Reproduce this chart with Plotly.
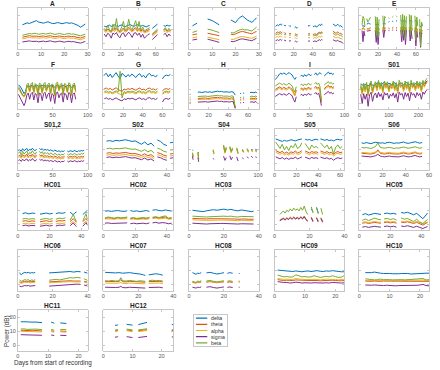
import plotly.graph_objects as go

W, H = 440, 370
BANDS = ["delta", "theta", "alpha", "sigma", "beta"]
BAND_COLORS = ["#0072BD", "#D95319", "#EDB120", "#7E2F8E", "#77AC30"]
N = None

# ---------------- data (dB) ----------------
A_days = list(range(2, 30))
A_delta = [13.0,13.6,14.4,14.0,14.8,15.4,16.0,15.0,14.6,14.2,14.7,15.2,14.5,13.9,14.1,14.6,14.3,13.8,14.2,14.6,14.1,14.4,13.9,13.3,12.5,11.3,12.4,13.6]
A_theta = [4.2,4.6,5.0,5.3,4.9,5.2,5.0,4.6,4.9,5.1,4.7,4.9,5.3,4.8,4.5,4.8,5.1,4.7,4.4,4.8,5.0,4.6,4.8,4.3,4.0,3.6,4.2,4.8]
A_alpha = [3.0,3.3,3.8,4.1,3.7,4.0,3.8,3.4,3.7,3.9,3.5,3.7,4.1,3.6,3.3,3.6,3.9,3.5,3.2,3.6,3.8,3.4,3.6,3.1,2.8,2.4,3.0,3.6]
A_sigma = [0.8,1.1,1.4,1.6,1.2,1.5,1.3,0.9,1.2,1.4,1.0,1.2,1.6,1.1,0.8,1.1,1.4,1.0,0.7,1.1,1.3,0.9,1.1,0.6,0.3,0.0,0.6,1.2]
A_beta = [5.6,6.0,6.4,6.8,6.5,7.0,6.8,6.3,6.6,6.9,6.4,6.7,7.1,6.6,6.2,6.5,6.9,6.4,6.1,6.6,6.8,6.3,6.5,6.0,5.6,5.2,5.8,6.4]

B_days = list(range(1, 54, 2)) + [N, 56, 58, 60, 62, N, 69, 71, 73, 75, 77]
B_delta = [12.0,11.6,12.4,12.8,11.9,12.5,13.0,12.2,11.8,12.6,12.9,12.1,11.7,12.4,12.8,13.2,12.3,11.9,12.7,13.1,12.5,12.0,12.6,11.8,11.5,12.2,12.6, N, 10.5,11.5,12.5,13.5, N, 12.5,12.0,12.8,12.2,12.6]
B_theta = [9.5,8.5,10.0,9.0,8.2,10.5,9.2,11.0,8.8,8.0,9.6,10.8,8.6,9.3,11.2,9.5,8.7,10.2,11.0,9.0,10.5,8.5,9.6,8.0,8.8,9.2,9.8, N, 6.0,7.0,8.0,9.0, N, 9.0,9.8,8.5,9.5,8.8]
B_alpha = [8.5,7.6,9.0,8.2,7.4,9.4,8.3,9.8,7.9,7.2,8.6,9.7,7.8,8.4,10.0,8.6,7.8,9.2,9.8,8.1,9.4,7.6,8.7,7.2,7.9,8.3,8.8, N, 5.0,6.0,7.0,8.0, N, 8.0,8.7,7.5,8.4,7.8]
B_sigma = [6.5,4.5,7.0,6.0,3.5,7.2,6.2,7.5,5.0,3.8,6.6,7.3,4.6,6.0,7.8,6.2,4.0,7.0,7.4,5.5,7.1,4.2,6.4,3.5,5.2,6.0,6.6, N, 2.5,3.5,5.0,6.0, N, 6.0,7.0,4.5,6.5,5.0]
B_beta = [10.5,9.0,12.8,9.5,8.0,13.5,10.0,17.5,9.2,8.5,11.5,15.5,9.0,10.5,17.0,11.0,9.5,13.0,16.0,10.2,15.5,9.0,11.5,8.8,9.5,10.2,11.0, N, 6.5,7.5,9.0,10.0, N, 9.5,11.0,8.5,10.5,9.0]

C_days = [1.5, 2.5, 3.5, N, 8, 9, 10, 11, 12, 13, N] + list(range(18, 30))
C_delta = [12.3,13.2,14.2, N, 17.2,16.8,16.0,15.0,14.2,13.0, N, 16.5,15.5,14.6,16.8,18.5,19.3,17.8,16.5,15.6,14.8,16.2,18.0]
C_theta = [5.9,6.2,6.5, N, 7.0,6.8,6.4,6.0,5.6,5.2, N, 6.4,6.0,6.6,7.4,8.0,8.3,7.6,7.4,7.0,6.6,7.6,8.3]
C_alpha = [3.8,4.1,4.4, N, 4.2,4.0,3.6,3.2,2.8,2.4, N, 2.8,2.6,3.2,3.9,4.5,4.7,4.2,4.0,3.7,3.4,4.3,5.0]
C_sigma = [2.2,2.5,2.8, N, 2.8,2.5,2.0,1.5,1.0,0.5, N, 1.2,1.0,1.5,2.2,2.8,3.0,2.5,2.3,2.0,1.7,2.8,3.5]
C_beta = [7.6,8.2,8.7, N, 9.9,9.7,9.2,8.6,8.0,7.5, N, 7.5,7.2,8.0,9.0,9.6,9.9,9.3,9.5,9.0,8.6,10.0,11.3]

D_days = [1,2,3,4,5,6,7,8,N,10,11,12,N,15,16,17,N,21,22,23,24,N,35,36,37,N,40,41,42,43,44,45,46,47,48,49,50,N,61,62,63,64,65,66,67,68,69,70,71]
D_delta = [12.0,12.8,13.0,12.4,13.2,13.6,12.8,13.4,N,13.0,12.2,12.8,N,12.6,11.8,12.4,N,11.0,11.6,10.6,11.2,N,12.6,12.0,12.8,N,12.2,11.6,12.4,12.0,11.4,12.2,12.8,13.2,12.4,13.6,13.0,N,13.6,13.2,12.8,12.2,12.8,13.4,12.6,12.0,12.4,11.6,11.2]
D_theta = [6.8,7.6,8.0,7.2,7.8,8.2,7.4,7.9,N,7.6,6.8,7.2,N,7.0,6.5,7.0,N,6.0,6.6,5.8,6.2,N,6.8,6.4,7.0,N,6.6,6.0,6.8,6.4,6.0,7.0,7.4,7.8,7.0,8.0,7.6,N,8.4,8.0,7.6,7.0,7.4,8.0,7.2,6.6,7.0,6.2,6.0]
D_alpha = [4.0,4.6,4.8,4.2,4.8,5.0,4.4,4.8,N,4.6,4.0,4.4,N,4.2,3.8,4.2,N,3.4,3.8,3.2,3.6,N,4.0,3.6,4.2,N,3.8,3.4,4.0,3.6,3.4,4.2,4.6,4.8,4.2,5.0,4.6,N,4.8,4.4,4.2,3.8,4.0,4.4,3.8,3.4,3.6,3.0,2.8]
D_sigma = [1.6,2.2,2.4,1.8,2.4,2.6,2.0,2.4,N,2.2,1.6,2.0,N,1.8,1.4,1.8,N,1.0,1.4,0.8,1.2,N,1.6,1.2,1.8,N,1.4,1.0,1.6,1.2,1.0,1.8,2.2,2.4,1.8,2.6,2.2,N,2.4,2.0,1.8,1.4,1.6,2.0,1.4,1.0,1.2,0.6,0.4]
D_beta = [5.8,6.4,6.6,6.0,6.8,7.0,6.2,6.8,N,6.6,5.8,6.2,N,6.0,5.4,6.0,N,5.0,5.6,4.8,5.2,N,5.8,5.4,6.0,N,5.6,5.0,5.8,5.4,5.0,6.2,6.8,7.2,6.4,7.4,7.0,N,7.0,6.6,6.2,5.6,6.0,6.6,5.8,5.2,5.6,4.8,4.6]

E_days = [3,4,5,6,N,8,9,10,11,12,N,17,18,19,20,21,N,25,26,27,28,N,31,32,N,35,36,N,39,40,N,44,45,46,47,48,49,50,N,53,54,55,56,N,59,60,61,62,N,64,65,66,67]
E_delta = [12.0,12.5,12.0,11.8,N,13.5,14.0,14.2,13.8,13.5,N,13.0,13.4,13.2,13.6,13.0,N,13.8,14.2,14.0,13.6,N,15.0,15.4,N,15.6,15.2,N,16.0,15.6,N,16.4,16.0,15.2,15.8,16.2,15.6,15.0,N,16.2,15.8,16.4,15.4,N,15.6,16.0,15.2,14.8,N,12.5,11.8,12.2,12.8]
E_theta = [10.0,11.0,10.5,9.5,N,10.5,10.0,10.2,10.8,11.0,N,11.0,8.0,10.8,7.0,10.5,N,11.2,9.0,11.0,10.6,N,10.8,10.5,N,11.0,11.2,N,11.0,10.8,N,11.4,8.5,11.6,9.0,11.2,7.5,11.0,N,11.4,8.0,11.0,9.5,N,11.0,6.0,10.5,9.0,N,10.0,4.0,9.5,9.0]
E_alpha = [9.4,10.4,9.9,8.9,N,9.9,9.4,9.6,10.2,10.4,N,10.4,7.4,10.2,6.4,9.9,N,10.6,8.4,10.4,10.0,N,10.2,9.9,N,10.4,10.6,N,10.4,10.2,N,10.8,7.9,11.0,8.4,10.6,6.9,10.4,N,10.8,7.4,10.4,8.9,N,10.4,5.4,9.9,8.4,N,9.4,3.4,8.9,8.4]
E_sigma = [9.0,1.0,8.5,5.0,N,9.0,8.5,8.8,9.2,9.0,N,9.0,0.5,8.5,-1.0,8.0,N,9.5,4.0,9.2,8.8,N,9.0,8.8,N,9.2,9.4,N,9.0,9.2,N,9.4,1.0,9.6,2.0,9.0,-1.0,9.2,N,9.5,1.5,9.0,3.0,N,9.0,-2.0,8.5,4.0,N,8.0,-3.0,7.5,7.0]
E_beta = [13.0,19.0,17.5,12.0,N,17.5,15.0,16.0,17.8,18.5,N,19.0,6.0,18.5,4.0,17.0,N,19.5,10.0,19.0,18.0,N,18.0,17.5,N,18.5,19.0,N,19.5,18.8,N,20.0,5.0,20.5,8.0,19.5,3.0,19.0,N,20.5,6.0,19.8,9.0,N,19.5,2.0,18.5,12.0,N,17.0,-2.0,15.0,12.0]

F_days = list(range(1, 84, 2))
F_delta = [13.0,12.5,11.0,9.0,7.0,8.5,11.5,12.8,12.2,13.0,12.4,12.0,12.8,13.2,12.5,11.8,12.6,13.0,12.2,11.5,12.4,12.8,12.0,12.5,13.1,12.2,11.6,12.3,12.9,12.4,11.8,12.6,13.0,12.2,11.9,12.7,13.2,12.4,11.6,12.5,12.9,12.3]
F_theta = [11.0,9.8,7.5,5.8,5.0,6.5,12.0,12.8,8.5,12.4,13.0,8.0,12.6,11.8,6.2,12.8,12.2,7.6,12.4,13.2,9.0,12.0,12.8,7.2,12.4,11.8,5.8,12.8,13.4,9.4,12.2,12.8,6.8,12.6,12.0,8.2,13.0,12.4,6.2,12.0,12.8,8.6]
F_alpha = [10.2,9.0,7.0,5.2,4.5,6.0,11.2,12.0,8.0,11.6,12.2,7.4,11.8,11.0,5.6,12.0,11.4,7.0,11.6,12.4,8.4,11.2,12.0,6.6,11.6,11.0,5.2,12.0,12.6,8.8,11.4,12.0,6.2,11.8,11.2,7.6,12.2,11.6,5.6,11.2,12.0,8.0]
F_sigma = [6.5,4.5,2.0,0.0,-1.5,1.0,6.0,7.5,3.0,7.0,8.0,2.5,7.2,6.0,0.5,7.5,6.8,2.0,7.0,8.0,3.5,6.5,7.6,1.5,7.0,6.2,0.0,7.5,8.2,4.0,6.8,7.4,1.0,7.2,6.6,2.5,7.8,7.0,0.5,6.5,7.6,3.0]
F_beta = [12.0,10.5,8.0,6.0,5.5,7.0,13.5,14.5,9.0,14.0,15.0,8.5,14.2,13.0,6.5,14.5,13.8,8.0,14.0,15.0,9.5,13.5,14.6,7.5,14.0,13.2,6.0,14.5,15.2,10.0,13.8,14.4,7.0,14.2,13.6,8.5,14.8,14.0,6.5,13.5,14.6,9.0]

G_days = list(range(1, 56, 2)) + [N, 60, 62, 64, 66, 68]
G_delta = [20.5,21.5,19.0,21.0,18.5,20.0,22.0,19.5,17.5,21.5,20.0,18.8,20.6,19.2,21.0,19.8,18.5,20.4,21.2,19.0,20.0,18.2,20.6,21.4,19.6,20.2,18.8,20.4,N,17.5,19.5,20.2,19.8,20.6]
G_theta = [10.5,11.0,10.0,10.8,9.6,10.2,11.2,10.0,9.2,8.5,10.4,9.6,10.6,10.0,10.8,10.2,9.4,10.4,11.0,9.8,10.2,9.4,10.6,11.0,10.0,10.4,9.6,10.6,N,9.0,10.2,10.6,10.0,10.8]
G_alpha = [7.6,8.0,7.2,7.8,6.8,7.4,8.2,7.2,6.6,6.0,7.6,7.0,8.0,7.4,8.0,7.6,6.8,7.8,8.2,7.2,7.6,6.8,8.0,8.4,7.4,7.8,7.0,8.0,N,6.4,7.6,8.0,7.4,8.2]
G_sigma = [3.4,4.0,3.0,3.6,2.6,3.2,4.0,3.0,2.4,1.8,3.4,2.8,3.8,3.2,3.8,3.4,2.6,3.6,4.0,3.0,3.4,2.6,3.8,4.2,3.2,3.6,2.8,3.8,N,1.0,3.2,3.6,3.0,3.8]
G_beta = [8.4,9.0,8.0,8.6,7.6,8.2,9.0,8.0,23.0,4.0,8.4,7.8,8.8,8.2,8.8,8.4,7.6,8.6,9.0,8.0,8.4,7.6,8.8,9.2,8.2,8.6,7.8,8.8,N,7.2,8.4,8.8,8.2,9.0]

H_days = [0.8, 1.6, N] + list(range(9, 48, 2)) + [N, 52, 53, N, 55, 56, N, 62, 64, 66, 68, 69]
H_delta = [6.5,6.6,N,8.0,8.2,7.8,8.1,8.4,8.0,8.3,7.9,8.2,8.5,8.8,8.4,8.6,8.2,8.5,8.3,8.0,8.4,8.2,6.0,N,7.0,7.2,N,7.5,7.3,N,7.8,8.0,7.6,8.2,7.4]
H_theta = [3.0,3.1,N,3.6,3.8,3.5,3.7,3.9,3.6,3.8,3.5,3.7,4.0,4.4,4.0,4.2,3.8,4.1,3.9,3.6,4.0,3.8,-3.0,N,3.0,3.2,N,3.4,3.2,N,3.6,3.8,3.4,4.0,3.2]
H_alpha = [2.2,2.3,N,2.8,3.0,2.7,2.9,3.1,2.8,3.0,2.7,2.9,3.2,3.6,3.2,3.4,3.0,3.3,3.1,2.8,3.2,3.0,-3.2,N,2.2,2.4,N,2.6,2.4,N,2.8,3.0,2.6,3.2,2.4]
H_sigma = [0.8,0.9,N,1.0,1.2,0.9,1.1,1.3,1.0,1.2,0.9,1.1,1.4,1.8,1.4,1.6,1.2,1.5,1.3,1.0,1.4,1.2,-3.5,N,0.4,0.6,N,0.8,0.6,N,1.0,1.2,0.8,1.4,0.6]
H_beta = [4.5,4.6,N,5.0,5.2,4.9,5.1,5.3,5.0,5.2,4.9,5.1,5.4,5.8,5.4,5.6,5.2,5.5,5.3,5.0,5.4,5.2,-2.5,N,4.2,4.4,N,4.6,4.4,N,5.0,5.2,4.8,5.4,4.6]

I_days = list(range(1, 32, 2)) + [N] + list(range(37, 54, 2)) + [N] + list(range(57, 68, 2)) + [N] + list(range(71, 86, 2))
I_delta = [17.0,18.0,19.5,21.0,21.6,20.8,21.8,21.2,20.6,21.5,22.0,21.0,20.4,18.5,17.2,18.8,N,19.6,20.2,19.0,20.6,19.4,20.0,21.0,19.8,20.4,N,20.6,21.8,20.2,21.2,22.0,20.8,N,19.6,20.4,21.6,22.4,21.0,21.8,20.6,21.4]
I_theta = [10.0,10.6,11.2,11.8,11.2,10.6,11.6,11.0,10.4,11.4,11.8,10.8,10.2,8.0,6.0,9.6,N,10.4,11.0,9.8,11.2,10.2,10.8,11.6,10.4,11.0,N,11.2,12.2,10.8,11.8,9.0,1.0,N,10.6,11.4,12.4,13.0,11.6,12.4,11.2,12.0]
I_alpha = [9.0,9.6,10.2,10.8,10.2,9.6,10.6,10.0,9.4,10.4,10.8,9.8,9.2,7.2,5.4,8.8,N,9.6,10.2,9.0,10.4,9.4,10.0,10.8,9.6,10.2,N,10.4,11.4,10.0,11.0,8.2,0.6,N,9.8,10.6,11.6,12.2,10.8,11.6,10.4,11.2]
I_sigma = [5.0,5.6,6.2,7.0,6.6,6.0,7.0,6.4,5.8,6.8,7.2,6.2,5.6,3.0,1.0,4.8,N,6.0,6.6,5.4,6.8,5.8,6.4,7.2,6.0,6.6,N,6.8,7.8,6.4,7.4,4.0,-1.5,N,6.2,7.0,8.0,8.6,7.2,8.0,6.8,7.6]
I_beta = [12.5,13.0,13.8,14.5,14.0,13.4,14.2,13.6,13.0,14.0,14.4,13.2,12.6,10.0,8.0,12.0,N,13.2,13.8,12.6,14.0,13.0,13.6,14.4,13.2,13.8,N,14.0,15.0,13.6,14.6,12.0,2.0,N,13.2,14.0,15.0,15.6,14.2,15.0,13.8,14.6]

S01_days = list(range(5, 231, 5))
S01_delta = [14.0,13.2,12.6,13.8,13.0,12.4,13.6,14.2,13.0,12.8,13.8,14.4,15.0,14.2,13.6,14.4,15.2,14.0,13.4,14.6,13.8,13.2,14.2,14.8,13.6,13.0,14.0,14.6,13.8,13.2,14.4,15.0,14.2,13.6,14.6,13.8,13.0,14.2,14.8,14.0,13.4,14.4,15.0,14.2,15.6,16.2]
S01_theta = [12.0,7.0,12.8,9.0,13.2,6.2,12.4,14.0,8.0,12.0,13.6,9.8,14.4,10.8,13.2,8.4,14.0,11.6,13.6,9.0,12.8,11.0,14.0,9.8,13.2,8.0,14.4,12.0,13.2,9.4,14.0,10.8,13.6,8.4,14.4,11.6,13.2,9.8,14.0,11.2,13.6,9.0,14.4,12.4,14.8,15.6]
S01_alpha = [11.2,6.2,12.0,8.2,12.4,5.4,11.6,13.2,7.2,11.2,12.8,9.0,13.6,10.0,12.4,7.6,13.2,10.8,12.8,8.2,12.0,10.2,13.2,9.0,12.4,7.2,13.6,11.2,12.4,8.6,13.2,10.0,12.8,7.6,13.6,10.8,12.4,9.0,13.2,10.4,12.8,8.2,13.6,11.6,14.0,14.8]
S01_sigma = [6.5,0.0,7.0,3.0,6.8,-2.0,6.2,8.0,1.5,6.0,7.5,4.0,8.0,5.0,7.0,2.5,7.8,6.0,7.4,3.5,6.6,5.2,7.6,4.0,7.0,1.0,8.0,6.2,7.2,3.0,7.8,5.0,7.4,2.0,8.0,6.0,7.0,4.0,7.8,5.6,7.2,3.0,8.2,6.6,9.0,10.0]
S01_beta = [13.5,8.0,14.5,10.0,15.0,7.0,14.0,16.0,9.0,13.5,15.5,11.0,16.5,12.0,15.0,9.5,16.0,13.0,15.5,10.0,14.5,12.5,16.0,11.0,15.0,9.0,16.5,13.5,15.0,10.5,16.0,12.0,15.5,9.5,16.5,13.0,15.0,11.0,16.0,12.5,15.5,10.0,16.5,14.0,17.0,18.0]

S012_days = list(range(1, 28, 2)) + [N] + list(range(31, 68, 2)) + [N] + list(range(71, 96, 2))
S012_delta = [9.5,10.2,9.0,10.8,9.4,10.0,11.0,9.2,10.4,9.8,11.2,10.0,9.4,10.6,N,11.0,10.2,10.8,9.6,10.4,9.8,10.2,9.4,10.0,9.6,9.0,9.8,9.2,8.8,9.4,8.6,9.2,8.8,9.4,N,9.2,8.6,9.4,9.0,8.8,9.6,9.2,8.6,9.4,9.0,9.6,9.2,9.8]
S012_theta = [5.6,6.2,5.0,6.6,5.4,6.0,6.8,5.2,6.2,5.6,7.0,5.8,5.2,6.4,N,6.6,5.8,6.4,5.2,6.0,5.4,5.8,5.0,5.6,5.2,4.8,5.6,5.0,4.6,5.2,4.4,5.0,4.8,5.4,N,5.2,4.6,5.4,5.0,4.8,5.6,5.2,4.6,5.2,4.8,5.4,5.0,5.6]
S012_alpha = [4.6,5.2,4.0,5.6,4.4,5.0,5.8,4.2,5.2,4.6,6.0,4.8,4.2,5.4,N,5.6,4.8,5.4,4.2,5.0,4.4,4.8,4.0,4.6,4.2,3.8,4.6,4.0,3.6,4.2,3.4,4.0,3.8,4.4,N,4.2,3.6,4.4,4.0,3.8,4.6,4.2,3.6,4.2,3.8,4.4,4.0,4.6]
S012_sigma = [2.4,3.0,1.8,3.4,2.2,2.8,3.6,2.0,3.0,2.4,3.8,2.6,2.0,3.2,N,3.4,2.6,3.2,2.0,2.8,2.2,2.6,1.8,2.4,2.0,1.6,2.4,1.8,1.4,2.0,1.2,1.8,1.6,2.2,N,2.0,1.4,2.2,1.8,1.6,2.4,2.0,1.4,2.0,1.6,2.2,1.8,2.4]
S012_beta = [7.5,8.8,6.2,9.0,7.0,8.4,9.2,6.6,8.2,7.4,9.4,7.8,6.8,8.6,N,9.0,7.6,8.8,6.8,8.2,7.2,8.0,6.6,7.8,7.0,6.4,7.6,6.8,6.2,7.2,6.0,7.0,6.4,7.4,N,7.0,6.2,7.4,6.8,6.4,7.6,7.0,6.2,7.2,6.6,7.4,7.0,7.8]

S02_days = list(range(2, 33, 2)) + [N, 34, 36, 38, 40, N, 42, 44]
S02_delta = [16.2,16.6,16.0,16.8,16.4,16.8,17.2,16.6,16.0,16.4,15.2,14.0,15.6,13.6,14.8,12.6,N,17.0,16.0,14.0,13.0,N,15.0,15.4]
S02_theta = [7.6,8.0,7.4,7.8,7.6,8.0,8.2,7.6,7.2,7.4,6.8,6.0,7.2,5.8,6.6,5.0,N,8.0,7.4,6.2,5.6,N,7.0,7.4]
S02_alpha = [6.2,6.6,6.0,6.4,6.2,6.6,6.8,6.2,5.8,6.0,5.4,4.6,5.8,4.4,5.2,3.6,N,6.6,6.0,4.8,4.2,N,5.6,6.0]
S02_sigma = [4.6,5.0,4.4,4.8,4.6,5.0,5.2,4.6,4.2,4.4,3.8,3.0,4.2,2.8,3.6,2.0,N,5.0,4.4,3.2,2.6,N,4.0,4.4]
S02_beta = [10.8,11.2,10.6,11.0,10.8,11.2,11.4,10.8,10.4,10.6,9.8,9.0,10.2,8.6,9.6,7.8,N,11.2,10.4,9.0,8.4,N,9.8,10.2]

S04_days = [5,6,N,13,14,N,35,36,N,50,52,54,N,59,61,63,N,69,71,N,77,79,N,84,86,N,90,92,N,96,98]
S04_delta = [9.8,9.6,N,8.2,8.0,N,N,N,N,N,N,N,N,N,N,N,N,N,N,N,N,N,N,N,N,N,10.0,10.2,N,10.4,10.0]
S04_theta = [7.5,5.0,N,8.0,3.6,N,9.6,7.2,N,12.8,8.0,11.4,N,11.8,8.4,10.8,N,10.8,7.4,N,9.8,8.4,N,10.4,8.6,N,9.8,9.0,N,9.4,9.0]
S04_alpha = [7.0,4.6,N,7.6,3.2,N,9.0,6.8,N,12.0,7.6,10.8,N,11.2,8.0,10.2,N,10.2,7.0,N,9.2,8.0,N,9.8,8.2,N,9.2,8.6,N,8.8,8.6]
S04_sigma = [5.4,3.0,N,4.5,1.5,N,4.0,3.2,N,5.5,2.5,4.5,N,5.8,3.0,4.8,N,5.0,2.0,N,4.4,3.6,N,5.2,4.0,N,5.6,4.4,N,5.0,4.6]
S04_beta = [8.0,5.5,N,8.5,4.0,N,10.2,7.8,N,13.5,8.5,12.0,N,12.5,9.0,11.5,N,11.5,8.0,N,10.5,9.0,N,11.0,9.2,N,10.5,9.5,N,10.0,9.5]

S05_days = list(range(1, 26, 2)) + [N] + list(range(28, 41, 2)) + [N] + list(range(42, 63, 2))
S05_delta = [17.8,17.2,16.6,16.0,16.8,16.2,16.6,17.2,16.8,16.4,17.0,17.4,17.8,N,17.6,17.0,17.4,16.6,17.2,17.6,17.0,N,17.8,17.2,16.8,17.4,16.6,17.0,16.4,17.2,17.6,17.0,17.4]
S05_theta = [9.5,8.8,8.0,9.0,7.6,8.4,7.4,8.6,8.0,9.2,7.8,8.4,9.4,N,9.2,8.4,7.8,8.8,8.2,8.6,8.0,N,9.2,8.6,8.0,8.8,7.8,8.4,6.8,8.2,8.8,8.0,8.4]
S05_alpha = [8.3,7.6,6.8,7.8,6.4,7.2,6.2,7.4,6.8,8.0,6.6,7.2,8.2,N,8.0,7.2,6.6,7.6,7.0,7.4,6.8,N,8.0,7.4,6.8,7.6,6.6,7.2,5.6,7.0,7.6,6.8,7.2]
S05_sigma = [5.0,4.4,3.6,4.6,3.4,4.2,3.2,4.2,3.8,4.8,3.6,4.2,5.0,N,4.8,4.2,3.6,4.6,4.0,4.4,3.8,N,4.8,4.2,3.8,4.4,3.4,4.0,2.6,3.8,4.4,3.8,4.2]
S05_beta = [15.5,13.0,11.0,14.0,10.0,12.5,9.5,13.0,11.5,14.5,11.0,12.0,15.0,N,14.5,12.0,10.0,13.5,11.5,12.5,11.0,N,15.0,13.0,11.5,13.5,10.5,12.5,7.0,12.0,13.5,11.0,12.5]

S06_days = list(range(2, 55, 2))
S06_delta = [15.0,14.6,15.2,14.8,14.4,15.0,15.4,15.2,14.8,15.0,14.6,15.2,15.4,15.0,14.6,15.0,14.8,15.2,15.6,15.0,14.6,15.0,15.4,15.8,15.2,14.8,15.2]
S06_theta = [7.6,7.4,7.6,7.2,7.0,7.4,7.8,10.0,7.6,7.2,7.0,7.4,7.6,7.2,7.0,7.2,7.0,7.4,7.8,7.4,7.0,7.2,7.6,8.0,7.4,7.0,7.4]
S06_alpha = [8.2,8.0,8.2,7.8,7.6,8.0,8.4,9.0,8.2,7.8,7.6,8.0,8.2,7.8,7.6,7.8,7.6,8.0,8.4,8.0,7.6,7.8,8.2,8.6,8.0,7.6,8.0]
S06_sigma = [5.6,5.4,5.6,5.2,5.0,5.4,5.8,6.8,5.6,5.2,5.0,5.4,5.6,5.2,5.0,5.2,5.0,5.4,5.8,5.4,5.0,5.2,5.6,6.0,5.4,5.0,5.4]
S06_beta = [11.8,11.4,11.6,11.2,11.0,11.6,12.4,15.0,11.8,11.4,11.2,11.6,11.8,11.4,11.0,11.4,11.2,11.6,12.0,11.6,11.2,11.4,11.8,12.2,11.6,11.2,11.6]

HC01_days = [3,5,7,9,11,N,14,16,18,20,22,N,24,26,28,30,N,33,34,35,36,37,N,41,42,43,44]
HC01_delta = [7.6,8.2,7.4,8.0,7.8,N,7.2,7.8,8.0,7.4,7.8,N,7.6,8.2,7.8,8.4,N,8.6,7.8,6.8,8.2,8.8,N,7.0,8.4,9.0,8.2]
HC01_theta = [2.2,2.6,2.0,2.4,2.2,N,1.8,2.2,2.6,2.0,2.4,N,2.0,2.6,2.4,2.8,N,2.0,3.0,4.0,2.6,1.5,N,1.8,3.2,4.2,2.4]
HC01_alpha = [0.4,0.8,0.2,0.6,0.4,N,0.0,0.4,0.8,0.2,0.6,N,0.2,0.8,0.6,1.0,N,0.4,1.2,2.0,0.8,0.0,N,0.2,1.4,2.2,0.6]
HC01_sigma = [-1.0,-0.6,-1.2,-0.8,-1.0,N,-1.4,-1.0,-0.6,-1.2,-0.8,N,-1.2,-0.6,-0.8,-0.4,N,-1.0,0.0,1.0,-0.6,-1.6,N,-1.4,0.2,1.2,-0.8]
HC01_beta = [3.8,4.2,3.6,4.0,3.8,N,3.4,3.8,4.2,3.6,4.0,N,3.6,4.4,4.0,4.6,N,3.0,5.0,7.0,4.0,2.0,N,2.5,5.0,7.5,3.5]

HC02_days = list(range(1, 16, 2)) + [N] + list(range(17, 30, 2)) + [N] + list(range(31, 44, 2))
HC02_delta = [9.4,9.6,9.2,9.4,9.8,9.4,9.2,9.6,N,9.8,9.2,9.6,9.0,9.4,9.8,9.2,N,10.0,10.4,9.8,9.6,10.2,9.8,9.4]
HC02_theta = [4.2,4.6,4.4,4.0,4.6,4.2,4.4,4.6,N,4.0,4.4,3.8,4.2,4.4,4.0,4.6,N,4.6,5.0,4.4,4.8,5.2,4.0,4.4]
HC02_alpha = [3.8,4.0,3.8,3.6,4.0,3.8,3.8,4.0,N,3.6,3.8,3.4,3.8,3.8,3.6,4.0,N,4.0,4.4,3.8,4.2,4.4,3.6,3.8]
HC02_sigma = [0.8,1.0,0.6,0.6,1.0,0.8,0.6,1.0,N,0.4,0.8,0.4,0.6,0.8,0.4,1.0,N,1.0,1.4,0.8,1.2,1.0,0.4,0.8]
HC02_beta = [4.6,5.2,4.8,4.4,5.0,4.6,4.8,5.2,N,4.4,4.8,4.2,4.6,4.8,4.4,5.0,N,5.0,5.4,4.8,5.2,6.0,4.4,4.8]

HC03_days = list(range(2, 37, 2)) + [37]
HC03_delta = [10.0,9.6,9.2,9.0,9.6,10.0,10.4,10.0,10.6,10.8,10.2,10.6,10.0,9.6,10.2,9.8,9.4,9.0,9.4]
HC03_theta = [4.2,4.0,3.8,3.6,3.8,4.0,4.0,3.8,4.0,4.2,3.8,4.0,3.8,3.6,3.8,3.8,3.6,3.4,3.6]
HC03_alpha = [3.2,3.0,2.8,2.6,2.8,2.8,3.0,2.8,3.0,3.0,2.8,3.0,2.8,2.6,2.8,2.8,2.6,2.4,2.6]
HC03_sigma = [0.8,0.6,0.4,0.2,0.2,0.4,0.6,0.4,0.6,0.6,0.4,0.6,0.4,0.2,0.4,0.4,0.2,0.0,0.2]
HC03_beta = [5.8,5.6,5.4,5.2,5.2,5.4,5.6,5.4,5.6,5.8,5.6,5.8,5.4,5.2,5.6,5.4,5.2,5.0,5.4]

HC04_days = list(range(3, 20)) + [N, 21, 22, N, 24, 25, N, 26.5, 27.5]
HC04_delta = [N]*17 + [N, 11.0, 9.0, N, 12.0, 8.0, N, N, N]
HC04_theta = [3.0,3.8,4.4,3.4,4.6,3.8,5.0,4.0,5.2,4.2,5.0,4.0,5.4,4.2,5.8,3.6,2.6,N,5.0,2.6,N,4.8,2.4,N,4.6,2.2]
HC04_alpha = [3.0,3.6,4.2,3.2,4.4,3.6,4.8,3.8,5.0,4.0,4.8,3.8,5.2,4.0,5.6,3.4,2.4,N,4.8,2.4,N,4.6,2.2,N,4.4,2.0]
HC04_sigma = [2.6,3.4,4.0,3.0,4.2,3.4,4.6,3.6,4.8,3.8,4.6,3.6,5.0,3.8,5.4,3.2,2.2,N,4.6,1.8,N,4.4,1.6,N,4.2,1.4]
HC04_beta = [7.0,8.5,9.5,8.0,10.0,9.0,11.0,9.5,11.5,10.0,11.0,9.5,12.0,10.0,13.0,9.0,7.0,N,12.5,8.0,N,12.0,7.5,N,11.5,7.0]

HC05_days = list(range(2, 15, 2)) + [N] + list(range(16, 25, 2)) + [N] + list(range(27, 44, 2)) + [44]
HC05_delta = [6.8,7.6,6.6,7.2,7.8,7.4,7.0,N,7.6,8.0,7.4,7.8,7.2,N,8.4,8.0,8.6,7.4,6.8,7.8,6.2,4.0,6.6,8.0]
HC05_theta = [0.8,1.2,0.6,1.0,1.4,1.0,0.8,N,1.2,1.6,1.0,1.4,0.8,N,1.6,1.2,1.8,1.0,0.6,1.4,0.4,-0.6,0.8,1.2]
HC05_alpha = [1.4,1.8,1.2,1.6,2.0,1.6,1.4,N,1.8,2.2,1.6,2.0,1.4,N,2.2,1.8,2.4,1.6,1.2,2.0,1.0,0.2,1.4,1.8]
HC05_sigma = [-2.0,-1.6,-2.2,-1.8,-1.4,-1.8,-2.0,N,-1.6,-1.2,-1.8,-1.4,-2.0,N,-1.2,-1.6,-1.0,-1.8,-2.2,-1.4,-2.4,-3.0,-2.0,-1.6]
HC05_beta = [2.8,3.8,2.6,3.4,4.4,3.6,3.2,N,3.8,4.2,3.4,4.0,3.0,N,4.6,3.6,4.2,3.0,2.0,3.6,1.6,0.6,2.4,3.4]

HC06_days = list(range(1, 11)) + [N] + list(range(18, 37, 2)) + [N, 38, 39, 40]
HC06_delta = [8.6,7.0,8.2,8.8,8.4,8.8,8.2,8.6,8.4,8.8,N,8.4,8.6,8.8,8.6,9.0,9.2,9.4,9.0,9.4,9.2,N,9.0,8.6,8.2]
HC06_theta = [2.0,1.6,2.0,2.4,2.2,2.4,2.0,2.2,2.0,2.4,N,2.0,2.2,2.4,2.2,2.4,2.6,2.8,2.6,2.8,2.6,N,2.4,2.0,1.8]
HC06_alpha = [1.4,1.0,1.4,1.8,1.6,1.8,1.4,1.6,1.4,1.8,N,1.4,1.6,1.8,1.6,1.8,2.0,2.2,2.0,2.2,2.0,N,1.8,1.4,1.2]
HC06_sigma = [-1.0,-1.4,-1.0,-0.6,-0.8,-0.6,-1.0,-0.8,-1.0,-0.6,N,-1.0,-0.8,-0.6,-0.8,-0.6,-0.2,0.2,0.0,0.4,0.2,N,-0.2,-0.6,-1.0]
HC06_beta = [3.4,2.4,3.0,3.6,3.2,3.6,2.8,3.4,3.0,3.6,N,3.2,3.6,3.8,3.4,4.0,4.6,5.0,4.8,5.2,4.8,N,4.2,3.6,3.0]

HC07_days = [1,3,5,7,9,10,11,13,15,17,19,21,23,24,N,26,28,30,32,34]
HC07_delta = [8.8,8.6,8.6,8.4,8.6,8.4,8.2,8.4,8.6,8.2,8.0,7.6,7.0,6.6,N,7.0,7.4,7.8,7.4,6.8]
HC07_theta = [2.4,2.2,2.4,2.2,2.4,3.6,2.2,2.0,2.4,2.2,2.0,2.2,2.0,1.8,N,2.2,2.4,2.2,2.4,2.0]
HC07_alpha = [1.2,1.0,1.2,1.0,1.2,1.6,1.0,0.8,1.2,1.0,0.8,1.0,0.8,0.6,N,1.0,1.2,1.0,1.2,0.8]
HC07_sigma = [-1.8,-2.0,-1.8,-2.0,-1.8,-1.2,-2.0,-2.2,-1.8,-2.0,-2.2,-2.0,-2.2,-2.4,N,-2.0,-1.8,-2.0,-1.8,-2.2]
HC07_beta = [2.8,2.6,3.0,2.6,2.8,5.0,2.8,2.6,3.0,2.8,2.4,2.8,2.6,2.4,N,2.8,3.2,2.8,3.0,2.6]

HC08_days = [2,3,4,5,6,7,N,10,12,14,16,18,20,N,22,23,24,25,N,28.5,29]
HC08_delta = [8.6,8.0,7.4,8.2,8.0,8.6,N,8.4,8.8,8.2,7.6,8.0,8.6,N,8.0,8.6,8.4,8.2,N,8.0,8.0]
HC08_theta = [1.6,1.4,1.2,1.8,1.6,2.0,N,1.8,2.2,1.8,1.4,1.8,2.0,N,1.6,2.0,1.8,1.6,N,1.8,1.8]
HC08_alpha = [2.0,1.8,1.4,2.2,1.8,2.4,N,2.2,2.6,2.0,1.6,2.0,2.4,N,2.0,2.4,2.2,2.0,N,2.2,2.2]
HC08_sigma = [-1.8,-2.2,-2.4,-1.8,-2.0,-1.6,N,-1.8,-1.4,-2.0,-2.4,-2.0,-1.6,N,-2.0,-1.6,-1.8,-2.0,N,-1.8,-1.8]
HC08_beta = [2.4,2.0,1.6,2.6,2.2,2.8,N,2.6,3.0,2.4,2.0,2.4,2.8,N,2.4,2.8,2.6,2.4,N,2.6,2.6]

HC09_days = list(range(1, 24))
HC09_delta = [10.4,10.2,10.4,10.0,9.6,9.4,9.8,9.6,9.2,9.6,9.8,9.4,9.6,10.0,9.6,9.4,9.8,9.6,10.0,9.6,9.4,9.2,9.2]
HC09_theta = [3.6,3.2,3.0,3.2,3.0,3.0,3.4,3.2,3.0,3.2,3.0,3.0,3.2,3.0,2.8,3.0,3.2,3.0,3.2,3.0,2.8,2.8,3.0]
HC09_alpha = [4.4,4.0,3.8,4.0,3.6,3.8,4.4,4.0,3.8,4.0,3.6,3.8,4.0,3.8,3.4,3.8,4.0,3.8,4.0,3.8,3.4,3.6,4.0]
HC09_sigma = [2.2,1.8,1.6,1.6,1.2,1.4,1.8,1.6,1.2,1.4,1.2,1.2,1.4,1.2,1.0,1.2,1.4,1.2,1.6,1.4,1.2,1.2,1.4]
HC09_beta = [6.8,6.2,5.6,5.8,5.4,5.6,7.0,6.4,5.6,5.8,5.4,5.6,6.4,5.8,5.2,5.6,6.0,5.6,6.4,5.8,5.2,5.4,6.6]

HC10_days = list(range(2, 24))
HC10_delta = [8.6,8.4,8.6,9.0,8.4,8.2,8.0,8.2,8.0,7.8,7.6,7.8,8.0,8.2,8.0,7.6,7.8,8.0,8.2,8.0,8.2,8.2]
HC10_theta = [2.6,2.4,2.4,2.6,2.4,2.4,2.6,2.6,2.4,2.4,2.6,2.6,2.4,2.4,2.6,2.6,2.4,2.6,2.6,2.8,2.4,2.4]
HC10_alpha = [3.0,3.0,2.8,3.2,3.0,2.8,3.0,3.2,3.0,2.8,3.0,3.2,3.0,2.8,3.0,3.2,3.0,3.0,3.2,3.4,2.8,3.0]
HC10_sigma = [-0.2,-0.4,-0.4,-0.2,-0.4,-0.6,-0.6,-0.4,-0.6,-0.8,-0.8,-0.6,-0.6,-0.8,-0.6,-0.4,-0.6,-0.4,-0.2,0.2,-0.6,-0.8]
HC10_beta = [4.2,3.8,3.6,3.4,3.6,4.0,3.6,3.8,3.6,3.4,3.6,3.8,3.6,3.4,3.6,3.8,3.6,3.8,4.0,4.4,3.4,3.6]

HC11_days = [1,2,3,4,5,6,7,8,N,11,12,N,14,15,16]
HC11_delta = [16.6,16.8,16.6,16.4,16.6,16.4,16.2,16.0,N,16.4,15.6,N,15.8,15.6,15.4]
HC11_theta = [10.6,10.4,10.2,10.4,10.2,10.4,10.2,10.0,N,10.2,9.8,N,10.0,10.0,9.8]
HC11_alpha = [9.8,9.8,9.6,9.8,9.6,9.8,9.6,9.4,N,9.6,9.2,N,9.4,9.4,9.2]
HC11_sigma = [7.4,7.4,7.2,7.4,7.2,7.2,7.0,7.0,N,7.2,6.8,N,7.0,7.0,6.8]
HC11_beta = [11.4,11.6,11.2,11.4,11.2,11.4,11.2,11.0,N,11.2,10.6,N,11.2,11.0,11.0]

HC12_days = [4,5,N,8,9,10,N,12,13,14,15,N,23.5,24]
HC12_delta = [14.0,14.4,N,14.8,14.4,14.2,N,14.6,15.0,15.6,16.2,N,14.6,14.6]
HC12_theta = [10.0,10.6,N,10.8,10.4,10.2,N,10.2,10.4,10.6,11.0,N,10.4,10.4]
HC12_alpha = [9.6,10.0,N,10.2,9.8,9.6,N,9.6,9.8,10.0,10.4,N,9.8,9.8]
HC12_sigma = [5.6,6.0,N,6.0,5.6,5.4,N,5.4,5.6,5.8,6.2,N,5.8,5.8]
HC12_beta = [10.6,11.2,N,11.4,11.0,10.8,N,10.8,11.0,11.2,11.6,N,11.0,11.0]

PANEL_NAMES = ["A","B","C","D","E","F","G","H","I","S01","S01,2","S02","S04","S05","S06",
               "HC01","HC02","HC03","HC04","HC05","HC06","HC07","HC08","HC09","HC10","HC11","HC12"]
PANEL_DATA = [
    (A_days, A_delta, A_theta, A_alpha, A_sigma, A_beta),
    (B_days, B_delta, B_theta, B_alpha, B_sigma, B_beta),
    (C_days, C_delta, C_theta, C_alpha, C_sigma, C_beta),
    (D_days, D_delta, D_theta, D_alpha, D_sigma, D_beta),
    (E_days, E_delta, E_theta, E_alpha, E_sigma, E_beta),
    (F_days, F_delta, F_theta, F_alpha, F_sigma, F_beta),
    (G_days, G_delta, G_theta, G_alpha, G_sigma, G_beta),
    (H_days, H_delta, H_theta, H_alpha, H_sigma, H_beta),
    (I_days, I_delta, I_theta, I_alpha, I_sigma, I_beta),
    (S01_days, S01_delta, S01_theta, S01_alpha, S01_sigma, S01_beta),
    (S012_days, S012_delta, S012_theta, S012_alpha, S012_sigma, S012_beta),
    (S02_days, S02_delta, S02_theta, S02_alpha, S02_sigma, S02_beta),
    (S04_days, S04_delta, S04_theta, S04_alpha, S04_sigma, S04_beta),
    (S05_days, S05_delta, S05_theta, S05_alpha, S05_sigma, S05_beta),
    (S06_days, S06_delta, S06_theta, S06_alpha, S06_sigma, S06_beta),
    (HC01_days, HC01_delta, HC01_theta, HC01_alpha, HC01_sigma, HC01_beta),
    (HC02_days, HC02_delta, HC02_theta, HC02_alpha, HC02_sigma, HC02_beta),
    (HC03_days, HC03_delta, HC03_theta, HC03_alpha, HC03_sigma, HC03_beta),
    (HC04_days, HC04_delta, HC04_theta, HC04_alpha, HC04_sigma, HC04_beta),
    (HC05_days, HC05_delta, HC05_theta, HC05_alpha, HC05_sigma, HC05_beta),
    (HC06_days, HC06_delta, HC06_theta, HC06_alpha, HC06_sigma, HC06_beta),
    (HC07_days, HC07_delta, HC07_theta, HC07_alpha, HC07_sigma, HC07_beta),
    (HC08_days, HC08_delta, HC08_theta, HC08_alpha, HC08_sigma, HC08_beta),
    (HC09_days, HC09_delta, HC09_theta, HC09_alpha, HC09_sigma, HC09_beta),
    (HC10_days, HC10_delta, HC10_theta, HC10_alpha, HC10_sigma, HC10_beta),
    (HC11_days, HC11_delta, HC11_theta, HC11_alpha, HC11_sigma, HC11_beta),
    (HC12_days, HC12_delta, HC12_theta, HC12_alpha, HC12_sigma, HC12_beta),
]
X_MAX = [30, 80, 30, 73, 74, 100, 71, 71, 100, 236, 100, 44, 101, 64, 60,
         44, 44, 40, 40, 45, 40, 40, 40, 23, 23, 23, 24]
X_TICKS = [[0,10,20,30],[0,20,40,60],[0,10,20,30],[0,20,40,60],[0,20,40,60],
           [0,50,100],[0,20,40,60],[0,20,40,60],[0,50,100],[0,100,200],
           [0,50,100],[0,20,40],[0,50,100],[0,20,40,60],[0,20,40,60],
           [0,20,40],[0,20,40],[0,20,40],[0,20,40],[0,20,40],
           [0,20,40],[0,20,40],[0,20,40],[0,10,20],[0,10,20],[0,10,20],[0,10,20]]
Y_RANGE = [-4.2, 25]
Y_TICKS = [0, 10, 20]
YLABEL_PANEL = "HC11"

# ---------------- figure ----------------
FONT = "Liberation Sans, Arial, sans-serif"
FRAME = "#b9b9b9"
TICKTXT = "#555555"
COL_LEFT = [16, 103, 190, 277, 363]
PW, PH = 71, 41

fig = go.Figure()
layout = dict(width=W, height=H, margin=dict(l=0, r=0, t=0, b=0),
              paper_bgcolor="white", plot_bgcolor="white", showlegend=False,
              hovermode=False,
              font=dict(family=FONT, size=6, color=TICKTXT), annotations=[])

def px_x(v):
    return v / W

def px_y(v):
    return 1 - v / H

for i, name in enumerate(PANEL_NAMES):
    r, c = divmod(i, 5)
    x0 = COL_LEFT[c]
    top = 8 + 60.4 * r
    k = i + 1
    xa, ya = f"x{k}", f"y{k}"
    xkey = "xaxis" if k == 1 else f"xaxis{k}"
    ykey = "yaxis" if k == 1 else f"yaxis{k}"
    common = dict(showline=True, mirror="ticks", linecolor=FRAME, linewidth=0.8,
                  ticks="inside", ticklen=2, tickcolor=FRAME, tickwidth=0.8,
                  showgrid=False, zeroline=False,
                  tickfont=dict(family=FONT, size=5.5, color=TICKTXT))
    layout[xkey] = dict(common, domain=[px_x(x0), px_x(x0 + PW)], anchor=ya,
                        range=[0, X_MAX[i]], tickvals=X_TICKS[i])
    layout[ykey] = dict(common, domain=[px_y(top + PH), px_y(top)], anchor=xa,
                        range=Y_RANGE, tickvals=Y_TICKS,
                        showticklabels=(name == YLABEL_PANEL))
    days = PANEL_DATA[i][0]
    for b, band in enumerate(BANDS):
        fig.add_trace(go.Scatter(x=days, y=PANEL_DATA[i][b + 1], mode="lines",
                                 line=dict(color=BAND_COLORS[b], width=1),
                                 connectgaps=False, xaxis=xa, yaxis=ya,
                                 name=band, hoverinfo="skip"))
    layout["annotations"].append(dict(
        text=f"<b>{name}</b>", x=px_x(x0 + PW / 2), y=px_y(top - 4.3),
        xref="paper", yref="paper", xanchor="center", yanchor="middle",
        showarrow=False, font=dict(family=FONT, size=6.5, color="#222222")))

# axis labels (only on HC11)
layout["annotations"].append(dict(
    text="Days from start of recording", x=px_x(52), y=px_y(362.5),
    xref="paper", yref="paper", xanchor="center", yanchor="middle",
    showarrow=False, font=dict(family=FONT, size=6.3, color="#333333")))
layout["annotations"].append(dict(
    text="Power (dB)", x=px_x(4.5), y=px_y(330.5), textangle=-90,
    xref="paper", yref="paper", xanchor="center", yanchor="middle",
    showarrow=False, font=dict(family=FONT, size=6.3, color="#333333")))

# legend box drawn as its own small axes
LK = len(PANEL_NAMES) + 1
lx, ly = f"x{LK}", f"y{LK}"
layout[f"xaxis{LK}"] = dict(domain=[px_x(195), px_x(229)], anchor=ly, range=[0, 1],
                            showline=True, mirror=True, linecolor=FRAME, linewidth=0.8,
                            showticklabels=False, ticks="", showgrid=False, zeroline=False)
layout[f"yaxis{LK}"] = dict(domain=[px_y(346), px_y(315)], anchor=lx, range=[5, 0],
                            showline=True, mirror=True, linecolor=FRAME, linewidth=0.8,
                            showticklabels=False, ticks="", showgrid=False, zeroline=False)
for b, band in enumerate(BANDS):
    fig.add_trace(go.Scatter(x=[0.06, 0.4], y=[b + 0.5, b + 0.5], mode="lines",
                             line=dict(color=BAND_COLORS[b], width=1.2),
                             xaxis=lx, yaxis=ly, hoverinfo="skip"))
    layout["annotations"].append(dict(
        text=band, x=0.46, y=b + 0.5, xref=lx, yref=ly, xanchor="left", yanchor="middle",
        showarrow=False, font=dict(family=FONT, size=5.2, color="#333333")))

fig.update_layout(**layout)
# remove the browser's default 8px page margin so the figure sits at the window origin
fig.write_html("out.html",
               config={"displayModeBar": False, "staticPlot": True},
               post_script="document.body.style.margin='0';document.body.style.overflow='hidden';")
